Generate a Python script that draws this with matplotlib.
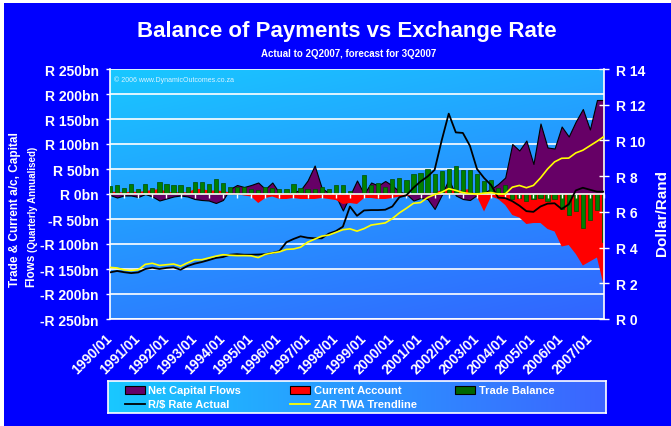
#!/usr/bin/env python

import numpy as np
import matplotlib.pyplot as plt
from matplotlib.patches import Rectangle
from matplotlib.lines import Line2D

plt.rcParams['font.family'] = ['Liberation Sans', 'DejaVu Sans']
plt.rcParams['font.weight'] = 'bold'

# quarters 1990/01 .. 2007/07 (2007Q3 is the forecast)
periods = [f"{1990 + k // 4}/{3 * (k % 4) + 1:02d}" for k in range(71)]

# R bn, quarterly annualised
net_capital = [-2, -7, -3, -3, -6, 0, -5, -13, -9, -5, -3, -5, -10, -12, -13, -18,
               -12, 10, 18, 14, 18, 23, 10, 23, 2, 0, 4, 8, 27, 57, 12, 2,
               -4, -33, -3, 27, 0, 23, 17, 26, 17, 5, 0, -13, -8, -10, -30, -2,
               30, -3, -10, -12, -2, 3, 10, 20, 33, 100, 87, 107, 60, 141, 93, 91,
               135, 115, 145, 170, 129, 188, 188]
current_account = [5, 4, 3, 5, 4, 6, 8, 10, 5, 3, 4, 3, 10, 10, 7, 7,
                   6, 3, 0, -3, -5, -18, -8, -5, -10, -10, -8, -10, -10, -10, -8, -10,
                   -12, -20, -18, -20, -8, -8, -10, -10, -8, -5, -5, 0, 3, 2, 3, 8,
                   10, 5, 8, 10, -5, -35, -5, -10, -22, -42, -47, -60, -58, -58, -70, -75,
                   -105, -102, -120, -143, -135, -127, -185]
trade_balance = [17, 18, 13, 21, 10, 21, 13, 24, 21, 18, 18, 15, 25, 25, 20, 31,
                 22, 15, 15, 15, 10, 8, 15, 13, 10, 10, 20, 13, 10, 10, 14, 11,
                 18, 18, 6, 3, 38, 19, 23, 15, 30, 32, 28, 41, 43, 50, 40, 46,
                 50, 57, 48, 48, 40, 27, 28, 12, 18, -9, -7, -13, -10, -7, -13, -10,
                 -30, -41, -33, -67, -51, -32, -95]

# Rand per dollar
rand_usd = [2.61, 2.69, 2.62, 2.57, 2.61, 2.80, 2.87, 2.80, 2.86, 2.89, 2.76, 2.97, 3.10, 3.19, 3.30, 3.42,
            3.47, 3.60, 3.63, 3.60, 3.60, 3.61, 3.63, 3.70, 3.80, 4.30, 4.48, 4.63, 4.55, 4.52, 4.52, 4.78,
            4.92, 5.17, 6.30, 5.78, 6.08, 6.10, 6.10, 6.12, 6.30, 6.82, 6.93, 7.35, 7.70, 7.98, 8.35, 10.0,
            11.5, 10.45, 10.42, 9.70, 8.40, 7.90, 7.50, 6.80, 6.77, 6.60, 6.35, 6.04, 6.00, 6.30, 6.46, 6.48,
            6.16, 6.42, 7.20, 7.35, 7.24, 7.13, 7.13]
zar_twa = [2.89, 2.86, 2.75, 2.72, 2.76, 3.06, 3.12, 3.00, 3.04, 3.08, 2.96, 3.15, 3.32, 3.32, 3.42, 3.52,
           3.60, 3.57, 3.55, 3.55, 3.54, 3.44, 3.62, 3.70, 3.76, 3.90, 3.92, 4.02, 4.30, 4.47, 4.64, 4.70,
           4.85, 5.00, 5.05, 4.92, 5.06, 5.26, 5.32, 5.38, 5.62, 5.94, 6.20, 6.48, 6.52, 6.80, 6.97, 7.10,
           7.30, 7.20, 7.08, 7.02, 7.00, 7.05, 7.08, 7.00, 7.00, 7.38, 7.48, 7.35, 7.48, 7.90, 8.40, 8.80,
           9.00, 9.01, 9.30, 9.45, 9.70, 9.95, 10.22]

left_ticks = list(range(-250, 251, 50))
right_ticks = list(range(0, 15, 2))


def gradient(c0, c1, wx, wy, n=200):
    u, v = np.meshgrid(np.linspace(0, 1, n), np.linspace(0, 1, n))
    t = wx * u + wy * v
    c0 = np.array(c0) / 255.0
    c1 = np.array(c1) / 255.0
    return c0 + t[..., None] * (c1 - c0)


def main():
    W, H = 671, 427
    fig = plt.figure(figsize=(W / 100, H / 100), dpi=100)
    fig.patch.set_facecolor('white')
    fig.add_artist(Rectangle((4 / W, 0), 1, 1 - 4 / H, transform=fig.transFigure,
                             facecolor='#0000FF', edgecolor='none', zorder=-5))

    ax = fig.add_axes([110 / W, 107 / H, 494 / W, 250 / H])
    ax.imshow(gradient((25, 200, 255), (50, 100, 255), 0.3, 0.7), extent=[0, 1, 0, 1],
              transform=ax.transAxes, aspect='auto', zorder=0)

    x = np.arange(len(periods))
    ax.fill_between(x, 0, net_capital, facecolor='#660066', edgecolor='black',
                    linewidth=0.8, zorder=2)
    ax.fill_between(x, 0, current_account, facecolor='#FF0000', edgecolor='none', zorder=3)
    ax.bar(x, trade_balance, width=0.6, color='#008000', edgecolor='#004d00',
           linewidth=0.5, zorder=4)

    ax.set_xlim(0, 70)
    ax.set_ylim(-250, 250)
    ax.set_yticks(left_ticks,
                  labels=[f"R {v}bn" if v >= 0 else f"-R {-v}bn" for v in left_ticks])
    ax.yaxis.grid(True, color='white', linewidth=1.2)
    ax.set_axisbelow(True)
    ax.tick_params(axis='y', direction='out', length=3, width=1, colors='white',
                   labelsize=10, pad=5)

    ax.set_xticks(x[::4], labels=periods[::4], rotation=45, ha='right',
                  va='center', rotation_mode='anchor')
    ax.tick_params(axis='x', length=0, colors='white', labelsize=10, pad=12)

    for s in ['top', 'right']:
        ax.spines[s].set_visible(False)
    for s in ['left', 'bottom']:
        ax.spines[s].set_color('white')
        ax.spines[s].set_linewidth(1.2)

    # category axis crossing at zero
    zero_ax = ax.secondary_xaxis(0.5)
    zero_ax.set_alignment('bottom')
    zero_ax.set_xticks(x[::2])
    zero_ax.tick_params(direction='out', length=3, width=1, colors='white',
                        labelbottom=False, labeltop=False)
    zero_ax.spines['bottom'].set_color('white')
    zero_ax.spines['bottom'].set_linewidth(1.2)
    zero_ax.set_zorder(5)

    ax.text(0.008, 0.975, '\u00a9 2006 www.DynamicOutcomes.co.za', transform=ax.transAxes,
            fontsize=5, fontweight='normal', color='#d8f4ff', va='top', ha='left', zorder=6)

    axr = ax.twinx()
    axr.plot(x, rand_usd, color='black', linewidth=1.3, zorder=3)
    axr.plot(x, zar_twa, color='#FFFF00', linewidth=1.2, zorder=4)
    axr.set_xlim(0, 70)
    axr.set_ylim(0, 14)
    axr.set_yticks(right_ticks, labels=[f"R {v}" for v in right_ticks])
    axr.tick_params(axis='y', direction='inout', length=7, width=1, colors='white',
                    labelsize=10, pad=5)
    for s in ['top', 'left', 'bottom']:
        axr.spines[s].set_visible(False)
    axr.spines['right'].set_color('white')
    axr.spines['right'].set_linewidth(1.2)

    # titles and axis titles
    fig.text(347 / W, 1 - 32 / H, 'Balance of Payments vs Exchange Rate', ha='center',
             va='center', fontsize=16, color='white')
    fig.text(349 / W, 1 - 54 / H, 'Actual to 2Q2007, forecast for 3Q2007', ha='center',
             va='center', fontsize=7, color='white')
    fig.text(21 / W, 1 - 287 / H, 'Trade & Current a/c, Capital', rotation=90,
             ha='right', va='bottom', fontsize=8.5, color='white')
    fig.text(37 / W, 1 - 287 / H, 'Flows', rotation=90, ha='right', va='bottom',
             fontsize=8.5, color='white')
    fig.text(38 / W, 1 - 252 / H, '(Quarterly Annualised)', rotation=90, ha='right',
             va='bottom', fontsize=7, color='white')
    fig.text(662 / W, 1 - 213 / H, 'Dollar/Rand', rotation=90, ha='center', va='center',
             fontsize=11, color='white')

    # legend box
    lax = fig.add_axes([108 / W, 13 / H, 498 / W, 32 / H])
    lax.imshow(gradient((25, 200, 255), (60, 100, 255), 1.0, 0.0), extent=[0, 1, 0, 1],
               aspect='auto', zorder=0)
    lax.set_xlim(0, 1)
    lax.set_ylim(0, 1)
    lax.set_xticks([])
    lax.set_yticks([])
    for s in lax.spines.values():
        s.set_color('white')
        s.set_linewidth(1.2)

    entries = [
        ('Net Capital Flows', 'patch', '#660066', 0.034, 0.72),
        ('Current Account', 'patch', '#FF0000', 0.366, 0.72),
        ('Trade Balance', 'patch', '#006600', 0.697, 0.72),
        ('R/$ Rate Actual', 'line', 'black', 0.034, 0.28),
        ('ZAR TWA Trendline', 'line', '#FFFF00', 0.366, 0.28),
    ]
    for label, kind, col, lx, ly in entries:
        if kind == 'patch':
            lax.add_patch(Rectangle((lx, ly - 0.12), 0.04, 0.24, facecolor=col,
                                    edgecolor='black', linewidth=0.8, zorder=2))
        else:
            lax.add_line(Line2D([lx, lx + 0.04], [ly, ly], color=col, linewidth=1.3, zorder=2))
        lax.text(lx + 0.047, ly, label, ha='left', va='center', fontsize=8,
                 color='white', zorder=3)

    plt.savefig('out.png', dpi=100, facecolor=fig.get_facecolor())


if __name__ == '__main__':
    main()
